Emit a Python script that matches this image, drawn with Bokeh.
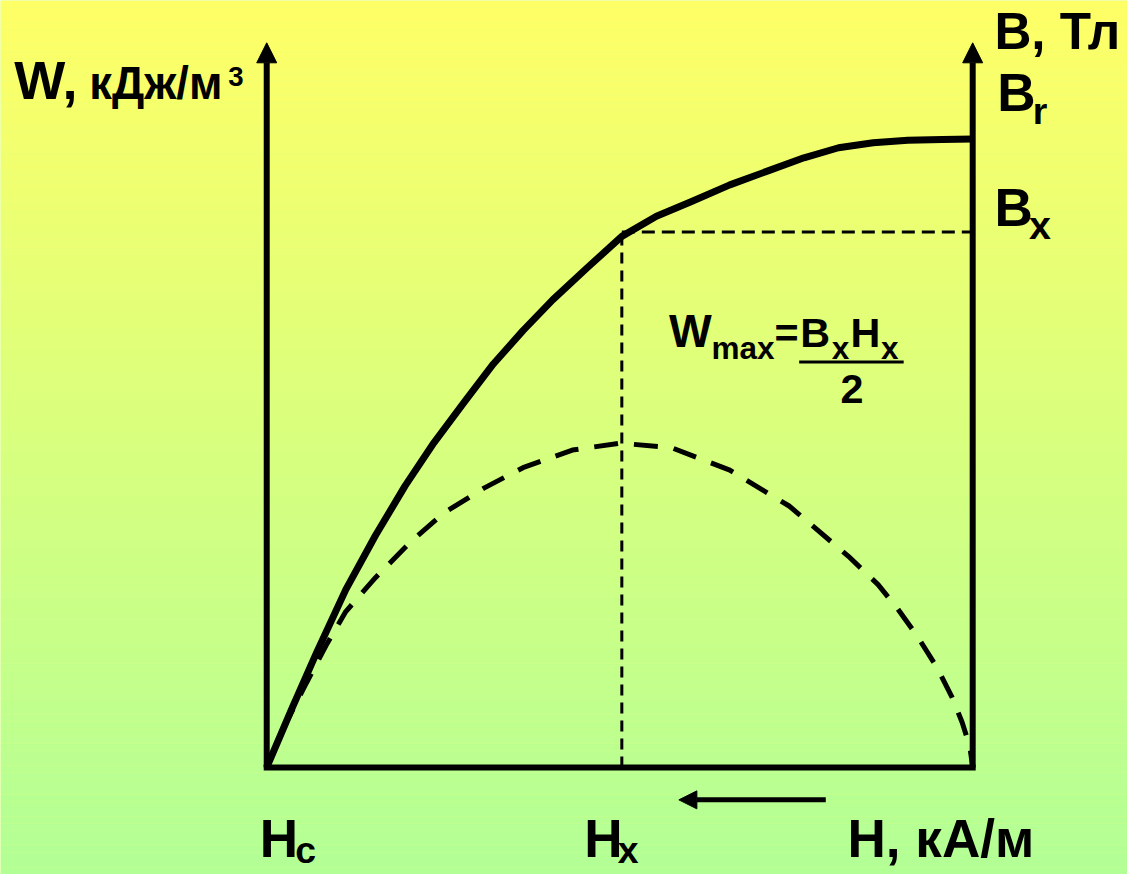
import numpy as np
from bokeh.plotting import figure
from bokeh.models import Arrow, NormalHead
from bokeh.core.properties import value
from bokeh.embed import file_html
from bokeh.resources import INLINE

# ---- data (normalised units: H from Hc=0 to H=0 at 1; B relative to Br=1) ----
H_c = 0.0
H_zero = 1.0
H_x = 0.503
B_r = 1.0
B_x = 0.852

# demagnetisation curve B(H)
curve_h = [0.0, 0.035, 0.070, 0.112, 0.154, 0.196, 0.237, 0.279, 0.321, 0.363, 0.405,
           0.454, 0.503, 0.552, 0.601, 0.656, 0.712, 0.761, 0.810, 0.859, 0.908, 0.957, 1.0]
curve_b = [0.0, 0.092, 0.181, 0.283, 0.369, 0.448, 0.517, 0.580, 0.642, 0.695, 0.744,
           0.795, 0.845, 0.877, 0.900, 0.927, 0.950, 0.970, 0.986, 0.994, 0.998, 0.999, 1.0]

# energy product W(H)
energy_h = [0.0, 0.028, 0.056, 0.084, 0.112, 0.154, 0.203, 0.251, 0.307, 0.363, 0.433, 0.500,
            0.573, 0.656, 0.740, 0.824, 0.866, 0.894, 0.922, 0.950, 0.971, 0.985, 0.996, 1.0]
energy_w = [0.0, 0.072, 0.134, 0.194, 0.248, 0.302, 0.358, 0.405, 0.444, 0.477, 0.505, 0.516,
            0.509, 0.473, 0.416, 0.336, 0.291, 0.252, 0.208, 0.158, 0.111, 0.072, 0.033, 0.0]

axis_top = 1.153

# ---- layout helpers (reference pixel -> data) ----
X0, XS = 270.0, 716.0
Y0, YS = 781.0, 640.0
def X(px):
    return (px - X0) / XS
def Y(py):
    return (Y0 - py) / YS

REF_W, REF_H = 1143, 890
W, H = 1127, 874
SX, SY = W / REF_W, H / REF_H
FS = (SX + SY) / 2

p = figure(width=W, height=H, x_range=(X(0), X(REF_W)), y_range=(Y(REF_H), Y(0)),
           output_backend="svg", toolbar_location=None, min_border=0,
           min_border_left=0, min_border_right=0, min_border_top=0, min_border_bottom=0)
p.axis.visible = False
p.grid.visible = False
p.outline_line_color = None
p.background_fill_color = "#DDFF80"
p.border_fill_color = "#DDFF80"

# background gradient (yellow top -> light green bottom)
top = np.array([255, 255, 102])
bot = np.array([178, 255, 150])
n = 120
ys = np.linspace(Y(REF_H), Y(0), n + 1)
cols = []
for i in range(n):
    t = i / (n - 1)
    c = bot + (top - bot) * t
    cols.append("#%02x%02x%02x" % tuple(int(round(v)) for v in c))
p.quad(left=X(0), right=X(REF_W), bottom=ys[:-1], top=ys[1:], fill_color=cols, line_color=None)

# axes
p.line([H_c, H_zero], [0, 0], line_width=6, line_color="black", line_cap="square")
for xa in (H_c, H_zero):
    p.add_layout(Arrow(end=NormalHead(size=20, fill_color="black", line_color="black", line_width=1),
                       x_start=xa, y_start=0, x_end=xa, y_end=axis_top,
                       line_width=6, line_color="black"))

# direction arrow under H axis
p.add_layout(Arrow(end=NormalHead(size=18, fill_color="black", line_color="black", line_width=1),
                   x_start=X(837), y_start=Y(814), x_end=X(688), y_end=Y(814),
                   line_width=5, line_color="black"))

# dashed guide lines
p.line([H_x, H_x], [0, B_x], line_width=3, line_color="black", line_dash="11 7")
p.line([H_x, H_zero], [B_x, B_x], line_width=3, line_color="black", line_dash="13 7")

# curves
p.line(curve_h, curve_b, line_width=7, line_color="black", line_join="round")
p.line(energy_h, energy_w, line_width=5, line_color="black", line_dash="24 16")

FONT = value("Liberation Sans")
def txt(px, base_py, s, size):
    fs = size * FS
    anchor = base_py - 0.40 * fs / SY
    p.text(x=[X(px)], y=[Y(anchor)], text=[s], text_font=FONT, text_font_style="bold",
           text_font_size=f"{fs:.1f}px", text_color="black",
           text_baseline="alphabetic", text_align="left")

txt(14, 103, "W,", 55)
txt(90, 103, "кДж/м", 46)
txt(231, 89, "3", 28)

txt(1008, 52, "B, Тл", 52)
txt(1011, 115, "B", 54)
txt(1047, 128, "r", 38)
txt(1008, 232, "B", 54)
txt(1043, 245, "x", 40)

txt(678, 355, "W", 46)
txt(721, 367, "max", 32)
txt(785, 355, "=", 42)
txt(811, 355, "B", 42)
txt(843, 367, "x", 32)
txt(862, 355, "H", 42)
txt(893, 367, "x", 32)
txt(852, 412, "2", 42)
p.line([X(810), X(916)], [Y(368), Y(368)], line_width=3, line_color="black")

txt(263, 875, "H", 54)
txt(299, 880, "c", 38)
txt(592, 875, "H", 54)
txt(626, 880, "x", 38)
txt(859, 875, "H, кА/м", 54)

open("out.html", "w").write(file_html(p, INLINE))
